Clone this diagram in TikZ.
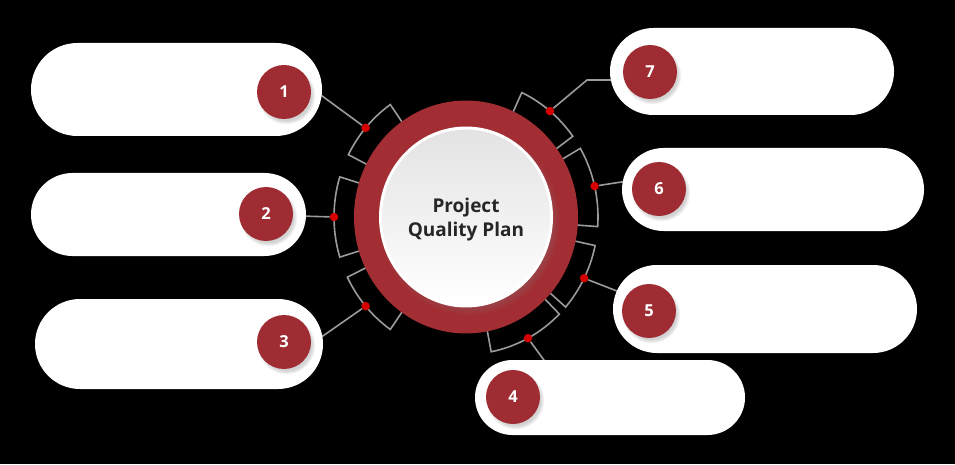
\documentclass[tikz,border=0pt]{standalone}
\usepackage{fontspec}
\setmainfont{Open Sans}
\usepackage{tikz}
\usetikzlibrary{shapes.misc, shadows, positioning}
\definecolor{ringred}{RGB}{162,46,52}
\definecolor{numred}{RGB}{158,44,50}
\definecolor{linkgray}{RGB}{155,155,155}
\definecolor{dotred}{RGB}{214,0,0}
\definecolor{textdark}{RGB}{38,38,38}
\tikzset{
    pill/.style={rounded rectangle, fill=white, inner sep=0pt},
    numcirc/.style={circle, fill=numred, minimum size=54pt, inner sep=0pt, text=white,
        font=\bfseries\fontsize{16.5}{18}\selectfont,
        circular drop shadow={shadow xshift=2pt, shadow yshift=-3pt, shadow scale=1.08, opacity=0.35}},
    seg/.style={draw=linkgray, line width=1.6pt},
    dot/.style={circle, fill=dotred, minimum size=8.5pt, inner sep=0pt},
    link/.style={draw=linkgray, line width=1.6pt},
    hubtext/.style={align=center, text=textdark, font=\bfseries\fontsize{19}{24}\selectfont}
}

\begin{document}
\begin{tikzpicture}[x=1pt, y=1pt]
    % Background
    \fill[black] (0,0) rectangle (955,464);
    \useasboundingbox (0,0) rectangle (955,464);

    % Segments and dots round the hub
    \begin{scope}[shift={(466,247)}, yscale=1.04]
        \draw[seg] (125:105) -- (125:132) arc[start angle=125, end angle=153, radius=132] -- (153:105);
        \draw[seg] (163:105) -- (163:132) arc[start angle=163, end angle=197, radius=132] -- (197:105);
        \draw[seg] (206:105) -- (206:132) arc[start angle=206, end angle=235, radius=132] -- (235:105);
        \draw[seg] (281:105) -- (281:132) arc[start angle=281, end angle=315, radius=132] -- (315:105);
        \draw[seg] (319:105) -- (319:132) arc[start angle=319, end angle=348, radius=132] -- (348:105);
        \draw[seg] (-4:105) -- (-4:132) arc[start angle=-4, end angle=30, radius=132] -- (30:105);
        \draw[seg] (36:105) -- (36:132) arc[start angle=36, end angle=65, radius=132] -- (65:105);

        \node[dot] (d1) at (139.5:132) {};
        \node[dot] (d2) at (180:132) {};
        \node[dot] (d3) at (220.5:132) {};
        \node[dot] (d4) at (298:132) {};
        \node[dot] (d5) at (333.5:132) {};
        \node[dot] (d6) at (13:132) {};
        \node[dot] (d7) at (50.5:132) {};

        % Ring and inner disc
        \fill[ringred] (0,0) circle[radius=112];
        \fill[white, circular drop shadow={shadow xshift=3pt, shadow yshift=-4pt, shadow scale=1.04, opacity=0.4}] (0,0) circle[radius=87];
        \shade[top color=black!11, bottom color=white] (0,0) circle[radius=84];
    \end{scope}
    \node[hubtext] (hub) at (466,244) {Project\\Quality Plan};

    % Link ends
    \coordinate (e1) at (318,371);
    \coordinate (e2) at (300,248);
    \coordinate (e3) at (320,126);
    \coordinate (e4) at (549,97);
    \coordinate (e5) at (622,171);
    \coordinate (e6) at (628,283);
    \coordinate (k7) at (587,384);
    \coordinate (e7) at (618,384);

    % Links
    \draw[link] (d1) -- (e1);
    \draw[link] (d2) -- (e2);
    \draw[link] (d3) -- (e3);
    \draw[link] (d4) -- (e4);
    \draw[link] (d5) -- (e5);
    \draw[link] (d6) -- (e6);
    \draw[link] (d7) -- (k7) -- (e7);

    % Pills
    \node[pill, minimum width=291pt, minimum height=93pt] (p1) at (176.5,374.5) {};
    \node[pill, minimum width=275pt, minimum height=83pt] (p2) at (168.5,249.5) {};
    \node[pill, minimum width=288pt, minimum height=90pt] (p3) at (179,120) {};
    \node[pill, minimum width=270pt, minimum height=75pt] (p4) at (610,66.5) {};
    \node[pill, minimum width=304pt, minimum height=88pt] (p5) at (765,155) {};
    \node[pill, minimum width=302pt, minimum height=83pt] (p6) at (773,274.5) {};
    \node[pill, minimum width=284pt, minimum height=87pt] (p7) at (752,392.5) {};

    % Numbers
    \node[numcirc] (n1) at (284,372) {1};
    \node[numcirc] (n2) at (266,250) {2};
    \node[numcirc] (n3) at (284,122) {3};
    \node[numcirc] (n4) at (513,67) {4};
    \node[numcirc] (n5) at (649,153) {5};
    \node[numcirc] (n6) at (659,275) {6};
    \node[numcirc] (n7) at (650,392) {7};
\end{tikzpicture}
\end{document}
